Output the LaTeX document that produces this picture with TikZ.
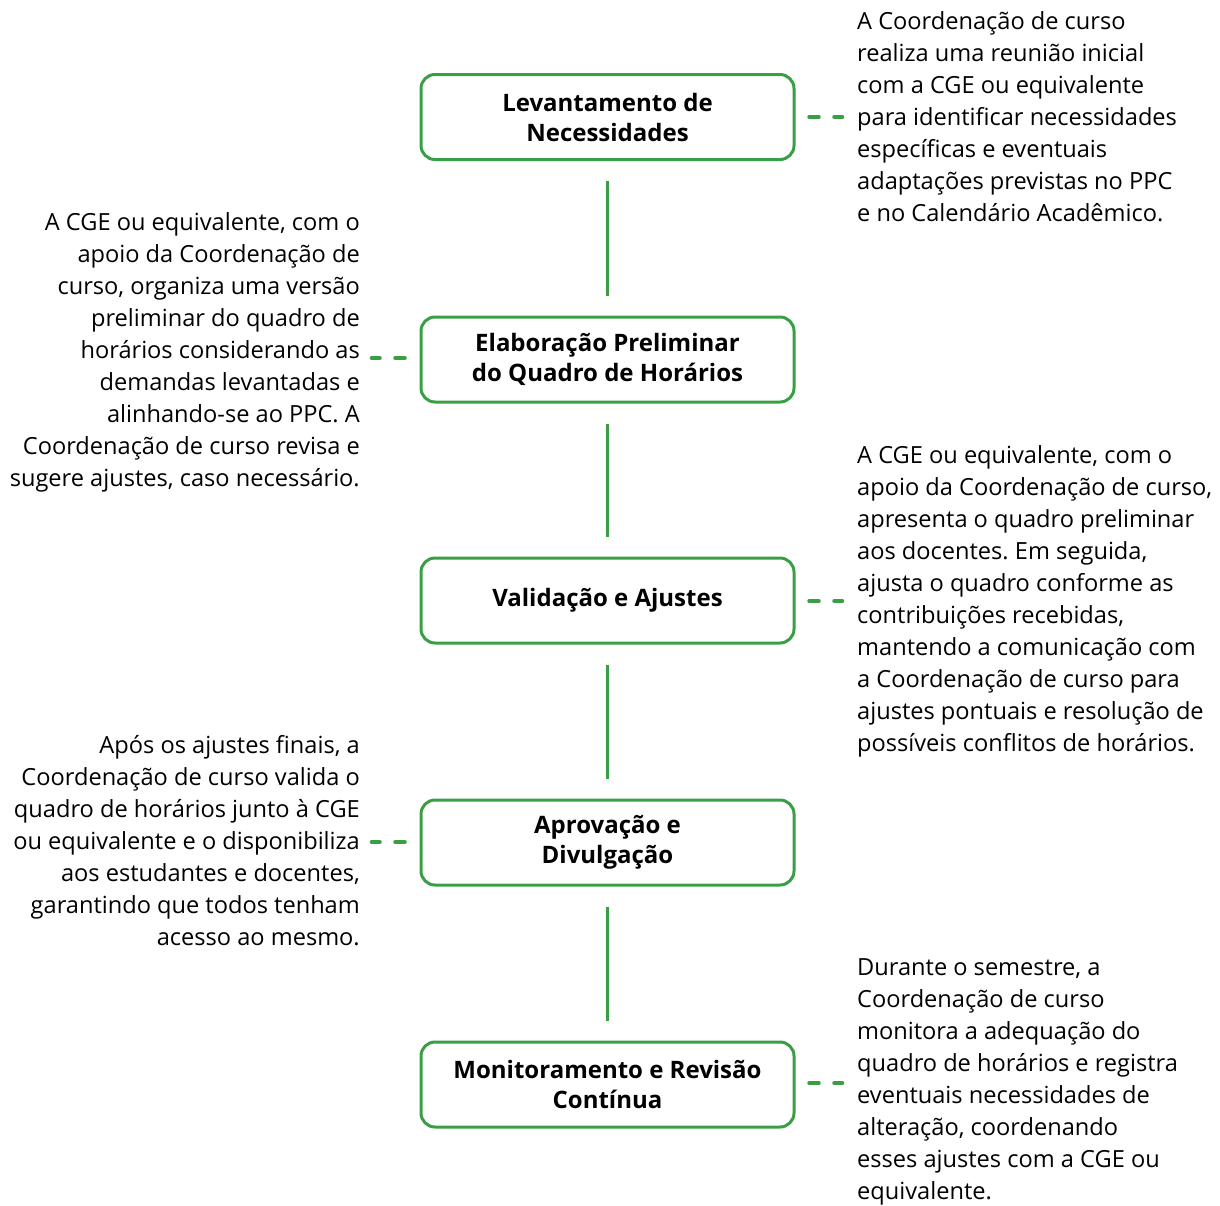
\documentclass[tikz,border=0pt]{standalone}
\usepackage{fontspec}
\setmainfont{Open Sans}
\frenchspacing
\definecolor{stepgreen}{HTML}{3A9E44}
\begin{document}
\begin{tikzpicture}[x=1pt,y=-1pt,
  stepbox/.style={draw=stepgreen, line width=3pt, rounded corners=14pt,
    minimum width=373pt, minimum height=85pt, align=center,
    font=\bfseries\fontsize{24}{30}\selectfont, inner sep=0pt},
  note/.style={font=\fontsize{23.6}{32}\selectfont, inner sep=0pt},
  link/.style={draw=stepgreen, line width=3pt},
  dashlink/.style={draw=stepgreen, line width=3.5pt, line cap=round,
    dash pattern=on 10pt off 15pt}]
\useasboundingbox (0,0) rectangle (1220,1205);

% process steps
\node[stepbox] (s1) at (607.5,117) {Levantamento de\\Necessidades};
\node[stepbox] (s2) at (607.5,359.5) {Elaboração Preliminar\\do Quadro de Horários};
\node[stepbox] (s3) at (607.5,600.5) {Validação e Ajustes};
\node[stepbox] (s4) at (607.5,842.5) {Aprovação e\\Divulgação};
\node[stepbox] (s5) at (607.5,1084.5) {Monitoramento e Revisão\\Contínua};

% vertical links between steps
\foreach \a/\b in {s1/s2,s2/s3,s3/s4,s4/s5}
  \draw[link] ([yshift=-20pt]\a.south) -- ([yshift=20pt]\b.north);

% descriptions
\node[note, anchor=west, align=left] (d1) at (857,117) {A Coordenação de curso\\realiza uma reunião inicial\\com a CGE ou equivalente\\para identificar necessidades\\específicas e eventuais\\adaptações previstas no PPC\\e no Calendário Acadêmico.};
\node[note, anchor=east, align=right] (d2) at (360,352) {A CGE ou equivalente, com o\\apoio da Coordenação de\\curso, organiza uma versão\\preliminar do quadro de\\horários considerando as\\demandas levantadas e\\alinhando-se ao PPC. A\\Coordenação de curso revisa e\\sugere ajustes, caso necessário.};
\node[note, anchor=west, align=left] (d3) at (857,601) {A CGE ou equivalente, com o\\apoio da Coordenação de curso,\\apresenta o quadro preliminar\\aos docentes. Em seguida,\\ajusta o quadro conforme as\\contribuições recebidas,\\mantendo a comunicação com\\a Coordenação de curso para\\ajustes pontuais e resolução de\\possíveis conflitos de horários.};
\node[note, anchor=east, align=right] (d4) at (360,841) {Após os ajustes finais, a\\Coordenação de curso valida o\\quadro de horários junto à CGE\\ou equivalente e o disponibiliza\\aos estudantes e docentes,\\garantindo que todos tenham\\acesso ao mesmo.};
\node[note, anchor=west, align=left] (d5) at (857,1082) {Durante o semestre, a\\Coordenação de curso\\monitora a adequação do\\quadro de horários e registra\\eventuais necessidades de\\alteração, coordenando\\esses ajustes com a CGE ou\\equivalente.};

% dashed links from steps to descriptions
\coordinate (c1) at (842.5,117);
\coordinate (c2) at (371.5,358);
\coordinate (c3) at (842.5,601);
\coordinate (c4) at (371.5,842);
\coordinate (c5) at (842.5,1083);
\draw[dashlink] ([xshift=13.5pt]s1.east |- c1) -- (c1);
\draw[dashlink] ([xshift=-14.5pt]s2.west |- c2) -- (c2);
\draw[dashlink] ([xshift=13.5pt]s3.east |- c3) -- (c3);
\draw[dashlink] ([xshift=-14.5pt]s4.west |- c4) -- (c4);
\draw[dashlink] ([xshift=13.5pt]s5.east |- c5) -- (c5);
\end{tikzpicture}
\end{document}
